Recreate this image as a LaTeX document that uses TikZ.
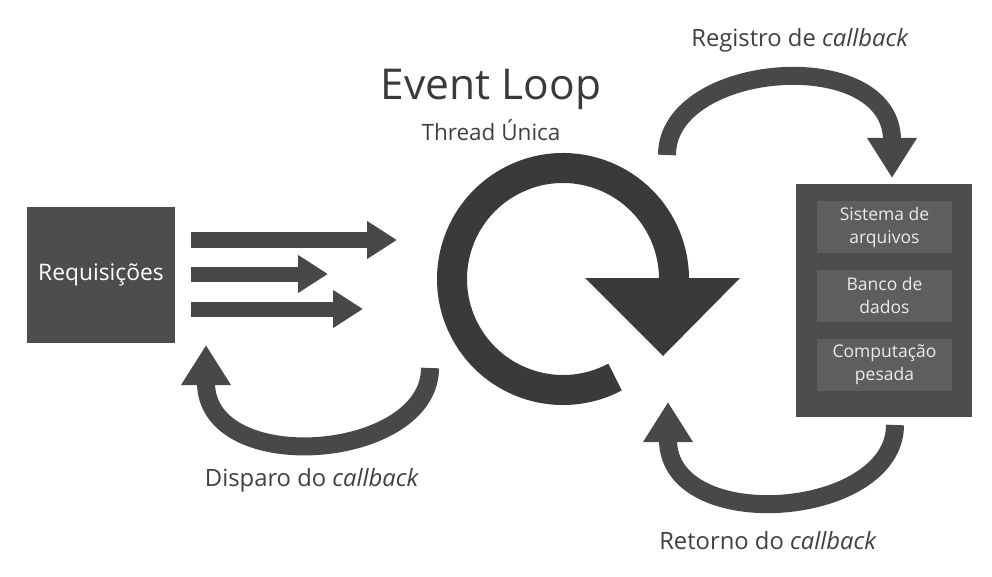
\documentclass[tikz,border=0pt]{standalone}
\usepackage{fontspec}
\setmainfont{Open Sans}
\usetikzlibrary{arrows.meta}
\definecolor{dark}{HTML}{3A3A3A}
\definecolor{arrowgray}{HTML}{484848}
\definecolor{boxgray}{HTML}{4D4D4D}
\definecolor{innergray}{HTML}{5E5E5E}
\definecolor{textgray}{HTML}{404040}
\tikzset{
  box/.style={fill=boxgray, text=white, inner sep=0pt},
  inner/.style={fill=innergray, text=white!92!black, minimum width=135pt, minimum height=52pt, align=center, inner sep=0pt, font=\fontsize{17.5}{23}\selectfont},
  flow/.style={draw=arrowgray, line width=15pt, -{Triangle[width=36pt,length=30pt]}},
  curve/.style={draw=arrowgray, line width=18pt, -{Triangle[width=47pt,length=40pt]}},
  lbl/.style={text=textgray, font=\fontsize{23.8}{28}\selectfont}
}
\begin{document}
\begin{tikzpicture}[x=1pt, y=-1pt]
\useasboundingbox (0,0) rectangle (992,577);
% requests
\node[box, minimum width=148pt, minimum height=136pt, font=\fontsize{22.8}{26}\selectfont] (req) at (101,275) {Requisições};
\coordinate (in1) at (397,240);
\coordinate (in2) at (328,274);
\coordinate (in3) at (363,309);
\draw[flow] ([xshift=16pt]req.east |- in1) -- (in1);
\draw[flow] ([xshift=16pt]req.east |- in2) -- (in2);
\draw[flow] ([xshift=16pt]req.east |- in3) -- (in3);
% event loop
\node[text=dark, font=\fontsize{42.5}{46}\selectfont] (title) at (491,89) {Event Loop};
\node[text=textgray, font=\fontsize{22.5}{26}\selectfont] (thread) at (491,130) {Thread Única};
\coordinate (loop) at (563,279);
\draw[dark, line width=30pt] (loop) ++(62:111) arc[start angle=62, end angle=360, radius=111];
\fill[dark] (585,278) -- (740,278) -- (663,356) -- cycle;
% workers
\node[box, minimum width=176pt, minimum height=233pt] (store) at (884,300.5) {};
\node[inner] (fs) at (884.5,227) {Sistema de\\arquivos};
\node[inner] (db) at (884.5,295.5) {Banco de\\dados};
\node[inner] (cpu) at (884.5,365) {Computação\\pesada};
% callbacks
\coordinate (regA) at (667,155);
\coordinate (regB) at (892,178);
\draw[curve] (regA) .. controls +(0,-94) and +(0,-134) .. (regB);
\node[lbl] (reg) at (800,40) {Registro de \textit{callback}};
\coordinate (retA) at (895,425);
\coordinate (retB) at (668,402);
\draw[curve] (retA) .. controls +(0,94) and +(0,134) .. (retB);
\node[lbl] (ret) at (768,541) {Retorno do \textit{callback}};
\coordinate (dispA) at (430,368);
\coordinate (dispB) at (206,345);
\draw[curve] (dispA) .. controls +(0,93) and +(0,133) .. (dispB);
\node[lbl] (disp) at (312,480) {Disparo do \textit{callback}};
\end{tikzpicture}
\end{document}
